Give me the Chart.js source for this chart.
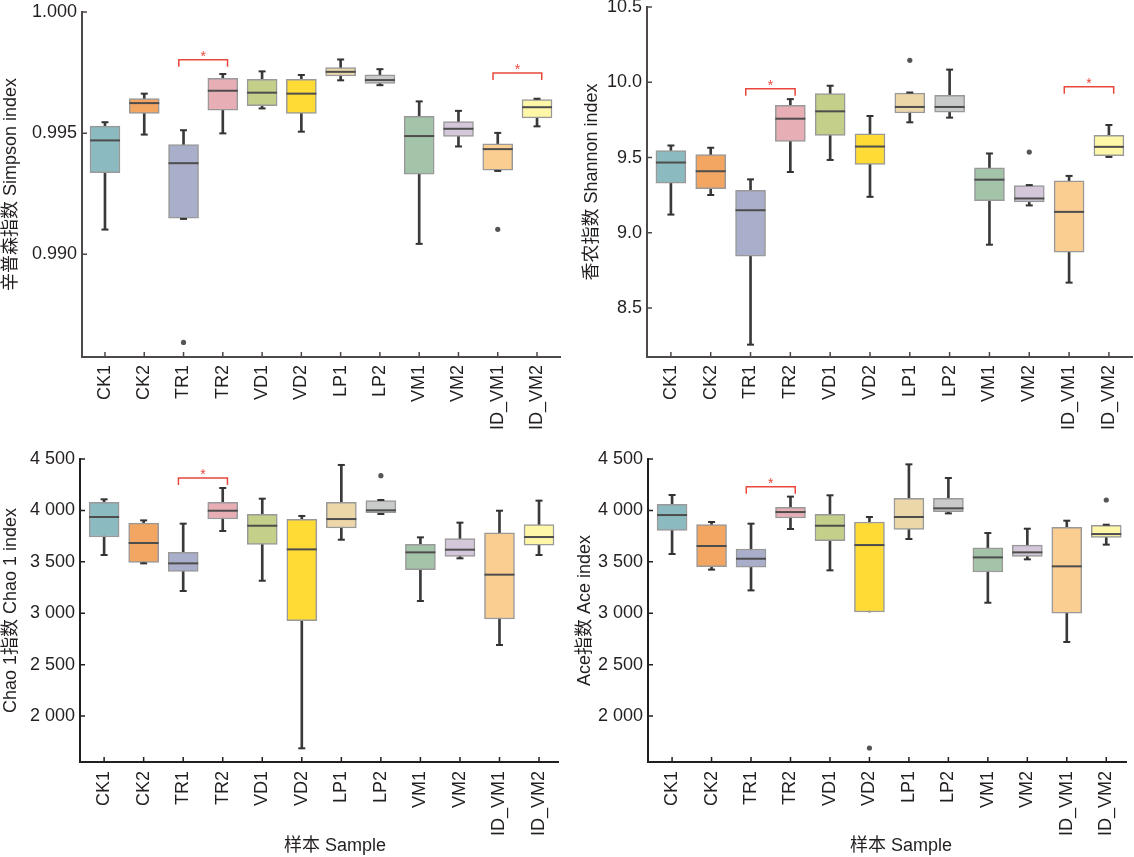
<!DOCTYPE html>
<html lang="zh-CN">
<head>
<meta charset="UTF-8">
<title>α多样性指数箱线图</title>
<script src="https://cdn.jsdelivr.net/npm/chart.js"></script>
<style>
    body {
        margin: 0;
        width: 1134px;
        height: 857px;
        position: relative;
        overflow: hidden;
        background: #fff;
        font-family: 'Liberation Sans', 'Noto Sans CJK SC', sans-serif;
    }
    .panel { position: absolute; }
    .xtitle {
        position: absolute;
        font-size: 18px;
        line-height: 22px;
        color: #231f20;
        white-space: nowrap;
        transform: translateX(-50%);
    }
</style>
</head>
<body>
<div class="panel" style="left:0;top:0"><canvas id="simpson" width="570" height="440"></canvas></div>
<div class="panel" style="left:581px;top:0"><canvas id="shannon" width="553" height="440"></canvas></div>
<div class="panel" style="left:0;top:440px"><canvas id="chao" width="570" height="417"></canvas></div>
<div class="panel" style="left:574px;top:440px"><canvas id="ace" width="560" height="417"></canvas></div>
<div class="xtitle" style="left:335px;top:834px">样本 Sample</div>
<div class="xtitle" style="left:901px;top:834px">样本 Sample</div>

<script>
// 样本
const categories = ['CK1', 'CK2', 'TR1', 'TR2', 'VD1', 'VD2', 'LP1', 'LP2', 'VM1', 'VM2', 'ID_VM1', 'ID_VM2'];
const boxColors = ['#8cbac1', '#f3a562', '#a9afcb', '#e7aeb6', '#c4d089', '#ffdb35', '#ecd7a9', '#c9caca', '#a3c4a8', '#d3c7d9', '#f9ce90', '#fff7a8'];

// 辛普森指数
const simpsonMin = [0.99102, 0.99494, 0.99146, 0.99499, 0.99602, 0.99506, 0.99718, 0.99698, 0.99043, 0.99445, 0.99344, 0.99528];
const simpsonQ1  = [0.99337, 0.99581, 0.99149, 0.99595, 0.99613, 0.99581, 0.99736, 0.99705, 0.99331, 0.99486, 0.99347, 0.99563];
const simpsonMed = [0.99470, 0.99624, 0.99376, 0.99675, 0.99667, 0.99663, 0.99753, 0.99719, 0.99488, 0.99518, 0.99434, 0.99607];
const simpsonQ3  = [0.99529, 0.99643, 0.99453, 0.99726, 0.99722, 0.99722, 0.99771, 0.99741, 0.99569, 0.99548, 0.99456, 0.99639];
const simpsonMax = [0.99545, 0.99663, 0.99512, 0.99744, 0.99755, 0.99740, 0.99804, 0.99764, 0.99631, 0.99592, 0.99501, 0.99642];
const simpsonOut = [null, null, 0.98636, null, null, null, null, null, null, null, 0.99103, null];
const simpsonTicks = [0.990, 0.995, 1.000];
const simpsonSig = [[2, 3, 0.99803], [10, 11, 0.99748]];

// 香农指数
const shannonMin = [9.121, 9.251, 8.257, 9.404, 9.484, 9.239, 9.734, 9.765, 8.921, 9.182, 8.669, 9.504];
const shannonQ1  = [9.329, 9.293, 8.845, 9.607, 9.647, 9.455, 9.796, 9.801, 9.213, 9.206, 8.872, 9.513];
const shannonMed = [9.467, 9.409, 9.150, 9.758, 9.807, 9.573, 9.836, 9.836, 9.353, 9.228, 9.139, 9.571];
const shannonQ3  = [9.547, 9.520, 9.282, 9.847, 9.925, 9.658, 9.928, 9.914, 9.431, 9.313, 9.346, 9.647];
const shannonMax = [9.580, 9.565, 9.355, 9.888, 9.977, 9.776, 9.932, 10.084, 9.527, 9.317, 9.378, 9.716];
const shannonOut = [null, null, null, null, null, null, 10.146, null, null, 9.536, null, null];
const shannonTicks = [8.5, 9.0, 9.5, 10.0, 10.5];
const shannonSig = [[2, 3, 9.957], [10, 11, 9.970]];

// Chao 1指数
const chaoMin = [3566, 3485, 3216, 3800, 3316, 1686, 3715, 3965, 3119, 3534, 2691, 3566];
const chaoQ1  = [3741, 3495, 3407, 3916, 3670, 2927, 3829, 3978, 3423, 3553, 2944, 3663];
const chaoMed = [3936, 3683, 3485, 3997, 3851, 3621, 3916, 4001, 3592, 3618, 3375, 3741];
const chaoQ3  = [4078, 3877, 3592, 4078, 3962, 3913, 4078, 4095, 3670, 3725, 3783, 3861];
const chaoMax = [4108, 3903, 3871, 4218, 4114, 3946, 4442, 4101, 3738, 3881, 3997, 4095];
const chaoOut = [null, null, null, null, null, null, null, 4338, null, null, null, null];
const chaoTicks = [2000, 2500, 3000, 3500, 4000, 4500];
const chaoSig = [[2, 3, 4315]];

// Ace指数
const aceMin = [3576, 3424, 3222, 3819, 3417, 3012, 3722, 3971, 3102, 3524, 2720, 3667];
const aceQ1  = [3806, 3453, 3449, 3926, 3706, 3012, 3816, 3988, 3401, 3553, 3000, 3738];
const aceMed = [3955, 3654, 3530, 3984, 3851, 3663, 3936, 4020, 3543, 3592, 3456, 3770];
const aceQ3  = [4059, 3861, 3625, 4030, 3962, 3887, 4117, 4117, 3637, 3663, 3835, 3855];
const aceMax = [4150, 3887, 3871, 4134, 4147, 3936, 4448, 4315, 3780, 3822, 3900, 3861];
const aceOut = [null, null, null, null, null, 1689, null, null, null, null, null, 4101];
const aceTicks = [2000, 2500, 3000, 3500, 4000, 4500];
const aceSig = [[2, 3, 4231]];

const textColor = '#231f20';
const fontFamily = "'Liberation Sans', 'Noto Sans CJK SC', sans-serif";
const sigColor = '#e8473b';

// 向内的刻度线
const innerTicks = {
    id: 'innerTicks',
    afterDraw(chart, args, opts) {
        const {ctx, chartArea: a, scales: {x, y}} = chart;
        ctx.save();
        ctx.strokeStyle = opts.color;
        ctx.lineWidth = 1.5;
        ctx.beginPath();
        x.ticks.forEach(t => {
            const px = x.getPixelForValue(t.value);
            ctx.moveTo(px, a.bottom);
            ctx.lineTo(px, a.bottom - 5);
        });
        y.ticks.forEach(t => {
            const py = y.getPixelForValue(t.value);
            ctx.moveTo(a.left, py);
            ctx.lineTo(a.left + 5, py);
        });
        ctx.stroke();
        ctx.restore();
    }
};

// 显著性标记
const brackets = {
    id: 'brackets',
    afterDatasetsDraw(chart, args, opts) {
        const {ctx, scales: {x, y}} = chart;
        ctx.save();
        ctx.strokeStyle = sigColor;
        ctx.fillStyle = sigColor;
        ctx.lineWidth = 1.5;
        ctx.font = '14px ' + fontFamily;
        ctx.textAlign = 'center';
        ctx.textBaseline = 'alphabetic';
        (opts.items || []).forEach(([a, b, level]) => {
            const x0 = x.getPixelForValue(a - 0.12);
            const x1 = x.getPixelForValue(b + 0.12);
            const py = y.getPixelForValue(level);
            ctx.beginPath();
            ctx.moveTo(x0, py + 7);
            ctx.lineTo(x0, py);
            ctx.lineTo(x1, py);
            ctx.lineTo(x1, py + 7);
            ctx.stroke();
            ctx.fillText('*', (x0 + x1) / 2, py + 1);
        });
        ctx.restore();
    }
};

function boxDatasets(min, q1, med, q3, max, out) {
    const pts = arr => arr.map((v, i) => ({x: i, y: v})).filter(p => p.y !== null);
    const caps = pts(max).concat(pts(min).filter(p => p.y < q1[p.x]));
    return [
        {
            type: 'bar', order: 5, grouped: false,
            data: categories.map((c, i) => ({x: i, y: [min[i], max[i]]})),
            backgroundColor: '#3a3a3a', barThickness: 2, borderWidth: 0
        },
        {
            type: 'bar', order: 4, grouped: false,
            data: categories.map((c, i) => ({x: i, y: [q1[i], q3[i]]})),
            backgroundColor: boxColors, borderColor: '#999999', borderWidth: 1.5,
            borderSkipped: false, barThickness: 30
        },
        {
            type: 'line', order: 3, showLine: false, data: pts(med),
            pointStyle: 'line', pointRadius: 15, pointBorderWidth: 2,
            borderColor: '#4d4d4d', pointBorderColor: '#4d4d4d'
        },
        {
            type: 'line', order: 2, showLine: false, data: caps,
            pointStyle: 'line', pointRadius: 3.5, pointBorderWidth: 2,
            borderColor: '#333333', pointBorderColor: '#333333'
        },
        {
            type: 'line', order: 1, showLine: false, data: pts(out),
            pointStyle: 'circle', pointRadius: 2.6, pointBorderWidth: 0,
            backgroundColor: '#555555', pointBackgroundColor: '#555555'
        }
    ];
}

function drawPanel(id, s) {
    new Chart(document.getElementById(id), {
        type: 'bar',
        data: { datasets: boxDatasets(s.min, s.q1, s.med, s.q3, s.max, s.out) },
        options: {
            responsive: false,
            animation: false,
            events: [],
            layout: {
                autoPadding: false,
                padding: { top: s.padTop, right: s.padRight, left: 0, bottom: 0 }
            },
            plugins: {
                legend: { display: false },
                tooltip: { enabled: false },
                brackets: { items: s.sig },
                innerTicks: { color: s.axisColor }
            },
            scales: {
                x: {
                    type: 'linear',
                    offset: false,
                    min: s.xMin,
                    max: s.xMax,
                    afterBuildTicks: sc => { sc.ticks = categories.map((c, i) => ({value: i})); },
                    afterFit: sc => { sc.height = s.xH; sc.paddingLeft = 0; sc.paddingRight = 0; },
                    grid: { display: false, drawTicks: false, offset: false },
                    border: { color: s.axisColor, width: 2 },
                    ticks: {
                        autoSkip: false, minRotation: 90, maxRotation: 90, padding: s.xPad,
                        color: textColor, font: { family: fontFamily, size: 18 },
                        callback: v => categories[v]
                    }
                },
                y: {
                    min: s.yMin,
                    max: s.yMax,
                    afterBuildTicks: sc => { sc.ticks = s.ticks.map(v => ({value: v})); },
                    afterFit: sc => { sc.width = s.yW; sc.paddingTop = 0; sc.paddingBottom = 0; },
                    grid: { display: false, drawTicks: false },
                    border: { color: s.axisColor, width: 2 },
                    ticks: {
                        padding: 5, color: textColor,
                        font: { family: fontFamily, size: 18 },
                        callback: s.fmt
                    },
                    title: {
                        display: true, text: s.title, color: textColor, padding: 0,
                        font: { family: fontFamily, size: 18 }
                    }
                }
            }
        },
        plugins: [innerTicks, brackets]
    });
}

const thousands = v => String(v).replace(/\B(?=(\d{3})+(?!\d))/g, ' ');

drawPanel('simpson', {
    min: simpsonMin, q1: simpsonQ1, med: simpsonMed, q3: simpsonQ3, max: simpsonMax, out: simpsonOut,
    sig: simpsonSig, ticks: simpsonTicks, yMin: 0.98576, yMax: 1.000, fmt: v => v.toFixed(3),
    title: '辛普森指数 Simpson index', xMin: -0.585, xMax: 11.585,
    yW: 82, xH: 83, padTop: 12, padRight: 10, xPad: 8, axisColor: '#4d4948'
});
drawPanel('shannon', {
    min: shannonMin, q1: shannonQ1, med: shannonMed, q3: shannonQ3, max: shannonMax, out: shannonOut,
    sig: shannonSig, ticks: shannonTicks, yMin: 8.175, yMax: 10.5, fmt: v => v.toFixed(1),
    title: '香农指数 Shannon index', xMin: -0.6, xMax: 11.58,
    yW: 66, xH: 83, padTop: 7, padRight: 2, xPad: 8, axisColor: '#4d4948'
});
drawPanel('chao', {
    min: chaoMin, q1: chaoQ1, med: chaoMed, q3: chaoQ3, max: chaoMax, out: chaoOut,
    sig: chaoSig, ticks: chaoTicks, yMin: 1553, yMax: 4500, fmt: thousands,
    title: 'Chao 1指数 Chao 1 index', xMin: -0.61, xMax: 11.48,
    yW: 80, xH: 95, padTop: 19, padRight: 12, xPad: 9, axisColor: '#231f20'
});
drawPanel('ace', {
    min: aceMin, q1: aceQ1, med: aceMed, q3: aceQ3, max: aceMax, out: aceOut,
    sig: aceSig, ticks: aceTicks, yMin: 1553, yMax: 4500, fmt: thousands,
    title: 'Ace指数 Ace index', xMin: -0.61, xMax: 11.5,
    yW: 74, xH: 95, padTop: 19, padRight: 8, xPad: 9, axisColor: '#231f20'
});
</script>
</body>
</html>
